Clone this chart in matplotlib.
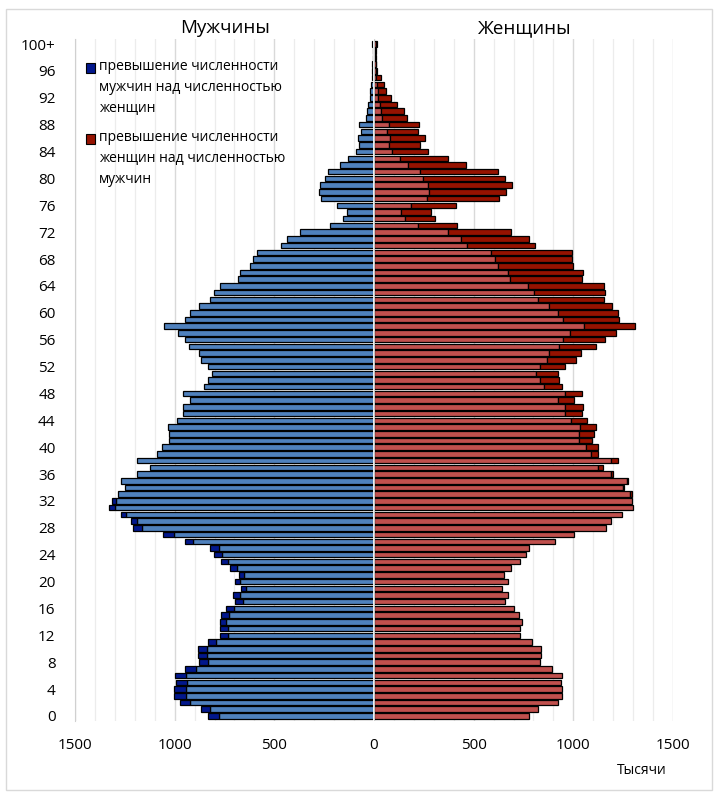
import numpy as np
import matplotlib
matplotlib.use("Agg")
import matplotlib.pyplot as plt
from matplotlib.patches import Rectangle

plt.rcParams['font.family'] = ['Open Sans', 'DejaVu Sans']

# population by single year of age, thousands (age 100 = 100+)
ages = np.arange(0, 101)
male = [835, 869, 975, 1002, 1005, 991, 1000, 946, 876, 885,
        885, 835, 772, 772, 772, 766, 743, 698, 705, 666,
        698, 677, 720, 768, 802, 824, 948, 1059, 1208, 1217,
        1271, 1328, 1316, 1285, 1248, 1269, 1187, 1124, 1187, 1088,
        1066, 1027, 1027, 1034, 989, 960, 960, 923, 960, 853,
        833, 811, 833, 869, 876, 930, 946, 984, 1052, 946,
        924, 878, 824, 804, 774, 684, 670, 623, 609, 587,
        465, 436, 373, 223, 156, 135, 187, 264, 276, 271,
        248, 232, 170, 132, 88, 74, 78, 63, 73, 42,
        33, 28, 22, 18, 13, 12, 10, 8, 7, 6, 9]
female = [779, 824, 923, 944, 944, 937, 944, 892, 833, 838,
          838, 793, 734, 734, 741, 727, 704, 659, 673, 644,
          673, 652, 689, 734, 763, 779, 908, 1005, 1163, 1187,
          1246, 1298, 1296, 1292, 1255, 1276, 1201, 1147, 1222, 1125,
          1125, 1093, 1102, 1115, 1070, 1043, 1050, 1005, 1043, 942,
          928, 921, 959, 1012, 1036, 1116, 1161, 1215, 1309, 1230,
          1222, 1194, 1154, 1161, 1154, 1043, 1050, 998, 991, 991,
          810, 779, 689, 418, 307, 285, 411, 628, 660, 690,
          658, 622, 463, 373, 271, 233, 256, 220, 227, 168,
          152, 117, 87, 58, 50, 37, 14, 12, 10, 9, 13]

ytick_pos = list(range(0, 101, 4))
ytick_labels = [str(a) for a in range(0, 100, 4)] + ['100+']
xtick_pos = [-1500, -1000, -500, 0, 500, 1000, 1500]
xtick_labels = ['1500', '1000', '500', '0', '500', '1000', '1500']
legend_labels = ['превышение численности\nмужчин над численностью\nженщин',
                 'превышение численности\nженщин над численностью\nмужчин']

LIGHT_BLUE = '#4f81bd'
DARK_BLUE = '#02178c'
LIGHT_RED = '#c0504d'
DARK_RED = '#951200'

m = np.array(male, dtype=float)
f = np.array(female, dtype=float)
common = np.minimum(m, f)
ex_m = m - common
ex_f = f - common
mm = ex_m > 0
mf = ex_f > 0

W, H = 718, 796
fig = plt.figure(figsize=(W / 100, H / 100), dpi=100)
ax = fig.add_axes([75 / W, 1 - 721 / H, 598 / W, 682 / H])

bh = 0.82
kw = dict(height=bh, edgecolor='black', linewidth=0.9, zorder=3)
ax.barh(ages, -common, color=LIGHT_BLUE, **kw)
ax.barh(ages[mm], -ex_m[mm], left=-common[mm], color=DARK_BLUE, **kw)
ax.barh(ages, common, color=LIGHT_RED, **kw)
ax.barh(ages[mf], ex_f[mf], left=common[mf], color=DARK_RED, **kw)

ax.axvline(0, color='white', linewidth=1.3, zorder=4)
ax.axvline(0, color='#b8b8b8', linewidth=0.5, zorder=5)

ax.set_xlim(-1500, 1500)
ax.set_ylim(-0.75, 100.75)
ax.set_xticks(np.arange(-1500, 1501, 100), minor=True)
ax.set_xticks(xtick_pos)
ax.set_xticklabels(xtick_labels, fontsize=11)
ax.set_yticks(ytick_pos)
ax.set_yticklabels(ytick_labels, fontsize=11)
ax.tick_params(axis='both', which='both', length=0)
ax.tick_params(axis='x', pad=12)
ax.tick_params(axis='y', pad=14)
ax.grid(axis='x', which='minor', color='#ececec', linewidth=0.9, zorder=0)
ax.grid(axis='x', which='major', color='#d9d9d9', linewidth=1.0, zorder=0)
ax.set_axisbelow(True)
for s in ['top', 'right', 'bottom']:
    ax.spines[s].set_visible(False)
ax.spines['left'].set_color('#d0d0d0')

# titles
fig.text(225 / W, 1 - 28 / H, 'Мужчины', ha='center', va='center', fontsize=13.5)
fig.text(525 / W, 1 - 28 / H, 'Женщины', ha='center', va='center', fontsize=13.5)
fig.text(642 / W, 1 - 771 / H, 'Тысячи', ha='center', va='center', fontsize=10)

# legend
for y0, col, lab in [(68, DARK_BLUE, legend_labels[0]), (139, DARK_RED, legend_labels[1])]:
    fig.patches.append(Rectangle((86 / W, 1 - (y0 + 4.5) / H), 9 / W, 9 / H,
                                 transform=fig.transFigure, facecolor=col,
                                 edgecolor='black', linewidth=0.8))
    fig.text(99 / W, 1 - (y0 - 9) / H, lab, ha='left', va='top', fontsize=10,
             linespacing=1.55)

# outer frame
fig.patches.append(Rectangle((6 / W, 6 / H), (W - 12) / W, (H - 15) / H,
                             transform=fig.transFigure, fill=False,
                             edgecolor='#d9d9d9', linewidth=1.0))

fig.savefig('out.png', dpi=100)
